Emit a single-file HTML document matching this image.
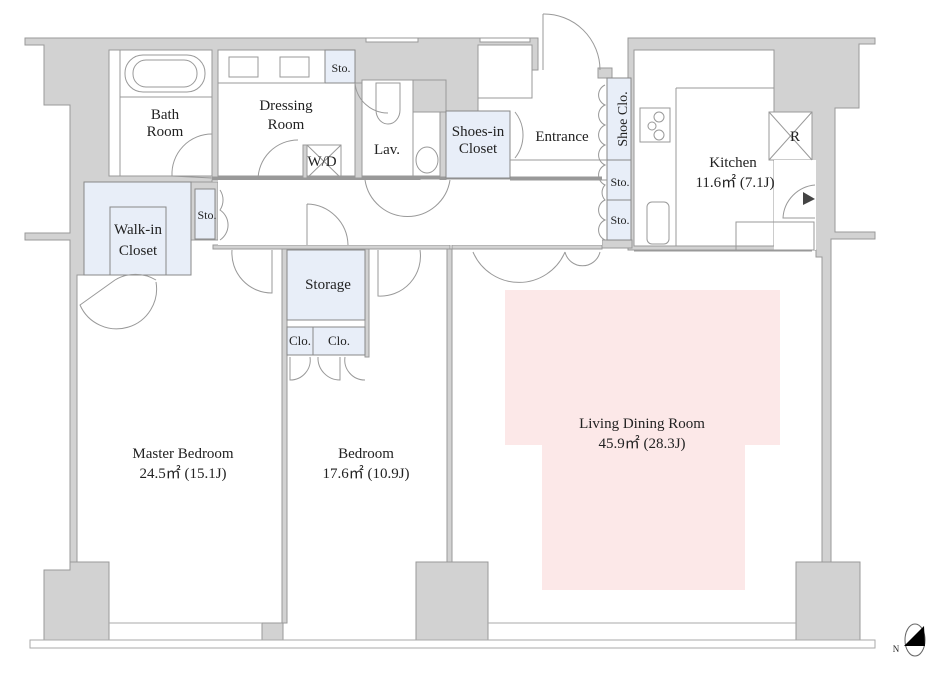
<!DOCTYPE html>
<html><head><meta charset="utf-8"><style>
html,body{margin:0;padding:0;background:#fff;}
svg{display:block}
text{font-family:"Liberation Serif",serif;font-size:15px;fill:#222;text-anchor:middle}
.s{font-size:12px}
</style></head><body>
<svg width="948" height="674" viewBox="0 0 948 674" xmlns="http://www.w3.org/2000/svg">
<g fill="#d2d2d2" stroke="#999" stroke-width="1">
<path d="M25 38 H538 V70 H532 V98 H478 V112 H446 V180 H440 V112 H420 V180 H212 V182 H84 V275 H77 V562 H70 V240 H25 V233 H70 V105 H44 V45 H25 Z"/>
<path d="M628 38 H875 V44 H859 V108 H835 V232 H875 V239 H831 V562 H822 V257 H816 V250 H628 Z"/>
<path d="M598 68 H612 V78 H598 Z"/>
<rect x="191" y="182" width="27" height="58"/>
<rect x="413" y="80" width="33" height="32"/>
<rect x="213" y="245" width="237" height="4"/>
<rect x="452" y="245" width="150" height="4"/>
<rect x="602" y="240" width="30" height="8"/>
<rect x="282" y="249" width="5" height="374"/>
<rect x="447" y="249" width="5" height="313"/>
<rect x="365" y="249" width="4" height="108"/>
<path d="M44 570 H70 V562 H109 V640 H44 Z"/>
<path d="M416 562 H488 V640 H416 Z"/>
<path d="M796 562 H860 V640 H796 Z"/>
<path d="M262 623 H283 V640 H262 Z"/>
</g>
<g fill="#fff" stroke="#999" stroke-width="1">
<rect x="109" y="50" width="103" height="126"/>
<rect x="218" y="50" width="137" height="126"/>
<rect x="362" y="80" width="51" height="96"/>
<rect x="413" y="112" width="27" height="64"/>
<rect x="478" y="45" width="54" height="53"/>
<rect x="218" y="180" width="384" height="65" stroke="none"/>
<rect x="634" y="50" width="140" height="196"/>
<rect x="769" y="112" width="43" height="48"/>
<rect x="774" y="160" width="42" height="90" stroke="none"/>
<rect x="366" y="38" width="52" height="4"/>
<rect x="480" y="38" width="50" height="4"/>
</g>
<line x1="212" y1="178" x2="602" y2="178" stroke="#999" stroke-width="3"/>
<rect x="303" y="145" width="4" height="33" fill="#d2d2d2" stroke="#999"/>
<rect x="355" y="83" width="7" height="95" fill="#d2d2d2" stroke="#999"/>
<g fill="#fff" stroke="#aaa" stroke-width="1">
<rect x="30" y="640" width="845" height="8"/>
<line x1="109" y1="623" x2="262" y2="623"/>
<line x1="488" y1="623" x2="796" y2="623"/>
</g>
<g fill="#e8eef8" stroke="#888" stroke-width="1">
<rect x="84" y="182" width="107" height="93"/>
<rect x="110" y="207" width="56" height="68"/>
<rect x="195" y="189" width="20" height="50"/>
<rect x="325" y="50" width="30" height="33"/>
<rect x="446" y="111" width="64" height="67"/>
<rect x="607" y="78" width="24" height="82"/>
<rect x="607" y="160" width="24" height="40"/>
<rect x="607" y="200" width="24" height="40"/>
<rect x="287" y="250" width="78" height="70"/>
<rect x="287" y="327" width="26" height="28"/>
<rect x="313" y="327" width="52" height="28"/>
</g>
<path d="M505 290 H780 V445 H745 V590 H542 V445 H505 Z" fill="#fce8e8"/>
<g fill="none" stroke="#999" stroke-width="1">
<rect x="125" y="55" width="80" height="37" rx="18"/>
<rect x="133" y="60" width="64" height="27" rx="13"/>
<line x1="120" y1="97" x2="212" y2="97"/>
<line x1="120" y1="50" x2="120" y2="176"/>
<rect x="229" y="57" width="29" height="20"/>
<rect x="280" y="57" width="29" height="20"/>
<line x1="218" y1="83" x2="325" y2="83"/>
<rect x="307" y="145" width="34" height="33"/>
<line x1="307" y1="145" x2="341" y2="178"/><line x1="341" y1="145" x2="307" y2="178"/>
<path d="M376 83 H400 V110 A12 14 0 0 1 376 110 Z"/>
<ellipse cx="427" cy="160" rx="11" ry="13"/>
<rect x="640" y="108" width="30" height="34"/>
<circle cx="659" cy="117" r="5"/><circle cx="652" cy="126" r="4"/><circle cx="659" cy="135" r="5"/>
<rect x="647" y="202" width="22" height="42" rx="5"/>
<line x1="676" y1="88" x2="774" y2="88"/>
<line x1="676" y1="88" x2="676" y2="246"/>
<line x1="769" y1="112" x2="812" y2="160"/><line x1="812" y1="112" x2="769" y2="160"/>
<rect x="736" y="222" width="78" height="28"/>
<line x1="634" y1="251" x2="812" y2="251"/>
<line x1="510" y1="160" x2="607" y2="160"/>
<line x1="510" y1="180" x2="607" y2="180"/>
<path d="M212 134 A40 40 0 0 0 172 176 L212 178"/>
<path d="M298 140 A40 40 0 0 0 258 180"/>
<path d="M355 83 A33 33 0 0 0 388 113"/>
<path d="M365 180 A43 43 0 0 0 450 180"/>
<path d="M220 190 A18 18 0 0 1 220 210 A18 18 0 0 1 220 240"/>
<path d="M307 204 V245 M307 204 A42 42 0 0 1 348 245"/>
<path d="M115 280 A40 40 0 0 1 156 280 M115 280 L80 305 A40 40 0 0 0 156 282"/>
<path d="M232 250 A40 40 0 0 0 272 293 V250"/>
<path d="M378 250 V296 A40 40 0 0 0 420 250"/>
<path d="M473 252 A50 50 0 0 0 565 252"/>
<path d="M565 252 A18 18 0 0 0 600 252"/>
<path d="M543 14 V70 M543 14 A56 56 0 0 1 600 70"/>
<path d="M515 112 A37 37 0 0 1 515 158"/>
<path d="M605 85 A11 11 0 0 0 605 105 A11 11 0 0 0 605 125 A11 11 0 0 0 605 145 A11 11 0 0 0 605 165 A11 11 0 0 0 605 185 A11 11 0 0 0 605 200 A11 11 0 0 0 605 220 A11 11 0 0 0 605 240"/>
<path d="M815 185 A35 35 0 0 0 783 218 H815"/>
<path d="M290 357 V380 A20 20 0 0 0 310 357 M340 357 V380 A22 22 0 0 1 318 357 M345 357 A20 20 0 0 0 365 380"/>
</g>
<path d="M803 192 L815 199 L803 205 Z" fill="#444"/>
<ellipse cx="915" cy="640" rx="10" ry="16" fill="#fff" stroke="#666"/>
<path d="M904 646 L924 626 L925 646 Z" fill="#000"/>
<text x="896" y="652" class="s" style="font-size:9px">N</text>
<text x="165" y="119">Bath</text><text x="165" y="136">Room</text>
<text x="286" y="110">Dressing</text><text x="286" y="129">Room</text>
<text x="341" y="72" class="s">Sto.</text>
<text x="322" y="166">W/D</text>
<text x="387" y="154">Lav.</text>
<text x="478" y="136">Shoes-in</text><text x="478" y="153">Closet</text>
<text x="562" y="141">Entrance</text>
<text x="627" y="119" transform="rotate(-90 627 119)" style="font-size:14px">Shoe Clo.</text>
<text x="620" y="186" class="s">Sto.</text>
<text x="620" y="224" class="s">Sto.</text>
<text x="733" y="167">Kitchen</text>
<text x="735" y="187">11.6㎡ (7.1J)</text>
<text x="795" y="141">R</text>
<text x="207" y="219" class="s">Sto.</text>
<text x="138" y="234">Walk-in</text><text x="138" y="255">Closet</text>
<text x="328" y="289">Storage</text>
<text x="300" y="345" class="s" style="font-size:13px">Clo.</text>
<text x="339" y="345" class="s" style="font-size:13px">Clo.</text>
<text x="183" y="458">Master Bedroom</text>
<text x="183" y="478">24.5㎡ (15.1J)</text>
<text x="366" y="458">Bedroom</text>
<text x="366" y="478">17.6㎡ (10.9J)</text>
<text x="642" y="428">Living Dining Room</text>
<text x="642" y="448">45.9㎡ (28.3J)</text>
</svg>
</body></html>
